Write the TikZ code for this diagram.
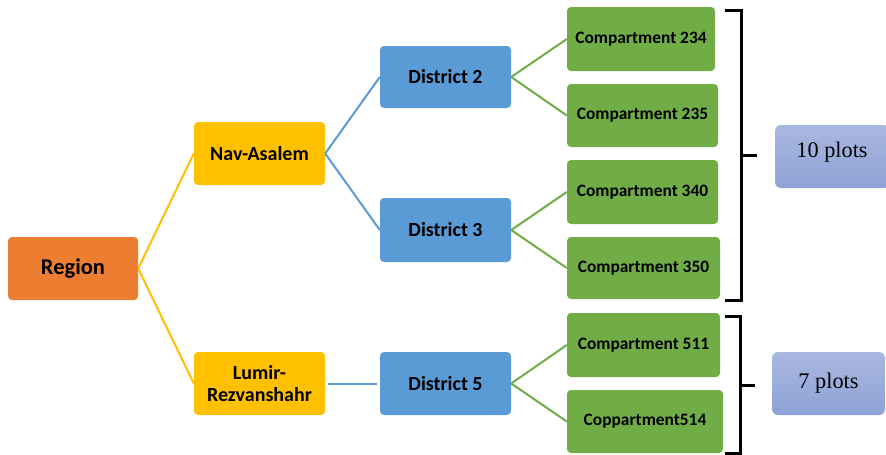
\documentclass[tikz,border=0pt]{standalone}
\usepackage{fontspec}
\setmainfont{Carlito}
\newfontfamily\timesf{Liberation Serif}
\definecolor{cOrange}{HTML}{ED7D31}
\definecolor{cYellow}{HTML}{FFC000}
\definecolor{cBlue}{HTML}{5B9BD5}
\definecolor{cGreen}{HTML}{70AD47}
\definecolor{cPlotTop}{HTML}{A9B8E0}
\definecolor{cPlotBot}{HTML}{8EA2D5}
\begin{document}
\begin{tikzpicture}[x=1pt,y=-1pt,
  box/.style={rounded corners=4pt, inner sep=0pt, align=center, font=\bfseries},
  regbox/.style={box, fill=cOrange, font=\bfseries\fontsize{22.5}{26}\selectfont},
  areabox/.style={box, fill=cYellow, font=\bfseries\fontsize{20}{22}\selectfont},
  distbox/.style={box, fill=cBlue, font=\bfseries\fontsize{20}{22}\selectfont},
  compbox/.style={box, fill=cGreen, font=\bfseries\fontsize{17.4}{20}\selectfont},
  plotbox/.style={rounded corners=6pt, inner sep=0pt, top color=cPlotTop, bottom color=cPlotBot, draw=none, font=\timesf\fontsize{22.3}{24}\selectfont},
  yline/.style={cYellow, line width=2pt},
  bline/.style={cBlue, line width=2pt},
  gline/.style={cGreen, line width=2pt},
  brace/.style={black, line width=3pt, line join=miter}
]
\clip (0,0) rectangle (886,455);
\fill[white] (0,0) rectangle (886,455);

\node[regbox, minimum width=130pt, minimum height=63pt] (reg) at (73,268.5) {Region};
\node[areabox, minimum width=131pt, minimum height=63pt] (nav) at (259.5,153.5) {Nav-Asalem};
\node[areabox, minimum width=131pt, minimum height=63pt] (lum) at (259.5,383.5) {Lumir-\\Rezvanshahr};
\node[distbox, minimum width=131pt, minimum height=62pt] (d2) at (445.5,77) {District 2};
\node[distbox, minimum width=131pt, minimum height=64pt] (d3) at (445.5,230) {District 3};
\node[distbox, minimum width=131pt, minimum height=63pt] (d5) at (445.5,383.5) {District 5};
\node[compbox, minimum width=148pt, minimum height=64pt] (c234) at (641,39) {Compartment 234};
\node[compbox, minimum width=151pt, minimum height=63pt] (c235) at (642.5,115.5) {Compartment 235};
\node[compbox, minimum width=151pt, minimum height=64pt] (c340) at (642.5,192) {Compartment 340};
\node[compbox, minimum width=153pt, minimum height=62pt] (c350) at (643.5,268) {Compartment 350};
\node[compbox, minimum width=153pt, minimum height=64pt] (c511) at (643.5,345) {Compartment 511};
\node[compbox, minimum width=156pt, minimum height=63pt] (c514) at (645,421.5) {Coppartment514};

\node[plotbox, minimum width=115pt, minimum height=63pt] (p10) at (832.5,156.5) {};
\node[font=\timesf\fontsize{22.3}{24}\selectfont] (p10t) at (832,152) {10 plots};
\node[plotbox, minimum width=113pt, minimum height=63pt] (p7) at (828.5,383.5) {7 plots};

\draw[yline] (reg.east) -- (nav.west);
\draw[yline] (reg.east) -- (lum.west);
\draw[bline] (nav.east) -- (d2.west);
\draw[bline] (nav.east) -- (d3.west);
\draw[bline] ([xshift=3pt]lum.east) -- ([xshift=-3pt]d5.west);
\draw[gline] (d2.east) -- (c234.west);
\draw[gline] (d2.east) -- (c235.west);
\draw[gline] (d3.east) -- (c340.west);
\draw[gline] (d3.east) -- (c350.west);
\draw[gline] (d5.east) -- (c511.west);
\draw[gline] (d5.east) -- (c514.west);

\coordinate (b1t) at (725,10);
\coordinate (b1b) at (725,300);
\coordinate (b1m) at (757,155);
\coordinate (b2t) at (725,316);
\coordinate (b2b) at (725,453);
\coordinate (b2m) at (755,385);
\draw[brace] (b1t) -- (741,10) -- (741,300) -- (b1b);
\draw[brace] (741,155) -- (b1m);
\draw[brace] (b2t) -- (740,316) -- (740,453) -- (b2b);
\draw[brace] (740,385) -- (b2m);
\end{tikzpicture}
\end{document}
